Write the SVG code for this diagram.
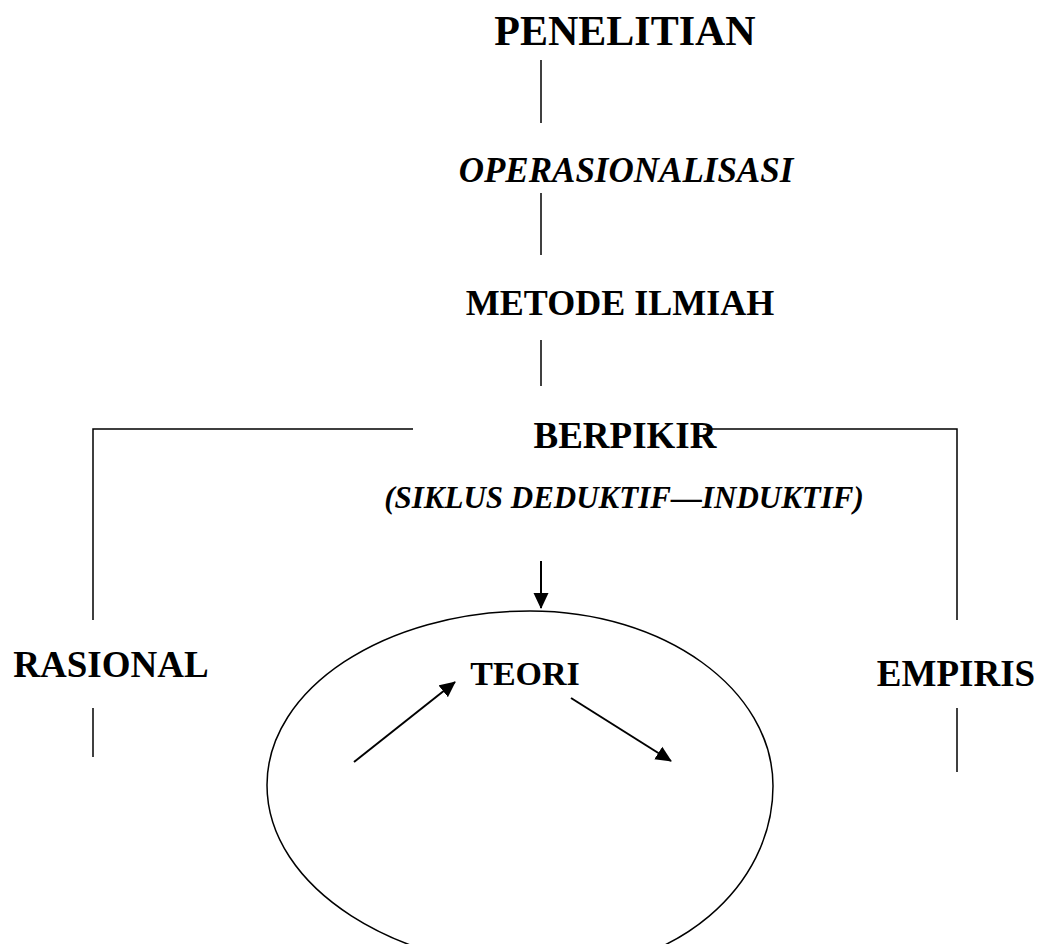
<svg xmlns="http://www.w3.org/2000/svg" width="1043" height="944" viewBox="0 0 1043 944">
  <style>
    .lbl { font-family: "Liberation Serif", "Times New Roman", serif; font-weight: bold; fill: #000; }
    .it { font-style: italic; }
    .ln { stroke: #000; stroke-width: 1.5; fill: none; }
    .ar { stroke: #000; stroke-width: 2; fill: none; }
  </style>
  <defs>
    <marker id="headL" markerWidth="16" markerHeight="16" refX="15" refY="7.5" orient="auto" markerUnits="userSpaceOnUse" viewBox="0 0 16 15">
      <path d="M0,0 L16,7.5 L0,15 Z" fill="#000"/>
    </marker>
  </defs>
  <rect width="1043" height="944" fill="#fff"/>

  <g id="connectors">
    <line class="ln" x1="541" y1="60" x2="541" y2="123"/>
    <line class="ln" x1="541" y1="193" x2="541" y2="255"/>
    <line class="ln" x1="541" y1="340" x2="541" y2="386"/>
    <polyline class="ln" points="413,429 93,429 93,620"/>
    <polyline class="ln" points="703,429 957,429 957,620"/>
    <line class="ln" x1="93" y1="708" x2="93" y2="757"/>
    <line class="ln" x1="957" y1="708" x2="957" y2="772"/>
    <line class="ar" x1="541" y1="561" x2="541" y2="608" marker-end="url(#headL)"/>
    <line class="ar" x1="354" y1="762" x2="455" y2="682" marker-end="url(#headL)"/>
    <line class="ar" x1="571" y1="698" x2="671" y2="761" marker-end="url(#headL)"/>
  </g>

  <g id="penelitian"><text class="lbl" x="625" y="45" font-size="42" text-anchor="middle">PENELITIAN</text></g>
  <g id="operasionalisasi"><text class="lbl it" x="626" y="182" font-size="35" text-anchor="middle">OPERASIONALISASI</text></g>
  <g id="metode-ilmiah"><text class="lbl" x="620" y="315" font-size="36" text-anchor="middle">METODE ILMIAH</text></g>
  <g id="berpikir">
    <text class="lbl" x="625" y="448" font-size="37" text-anchor="middle">BERPIKIR</text>
    <text class="lbl it" x="624" y="508" font-size="31" text-anchor="middle">(SIKLUS DEDUKTIF—INDUKTIF)</text>
  </g>
  <g id="rasional"><text class="lbl" x="111" y="677" font-size="37" text-anchor="middle">RASIONAL</text></g>
  <g id="empiris"><text class="lbl" x="956" y="686" font-size="37" text-anchor="middle">EMPIRIS</text></g>
  <g id="teori">
    <!-- hand-drawn oval, built from four quarter arcs -->
    <path class="ln" d="M530,611 C664.2,611 773,689.3 773,786 C773,887.6 675.4,970 555,970 C395.9,970 267,887.2 267,785 C267,688.9 384.7,611 530,611 Z"/>
    <text class="lbl" x="525" y="685" font-size="34" text-anchor="middle">TEORI</text>
  </g>
</svg>
